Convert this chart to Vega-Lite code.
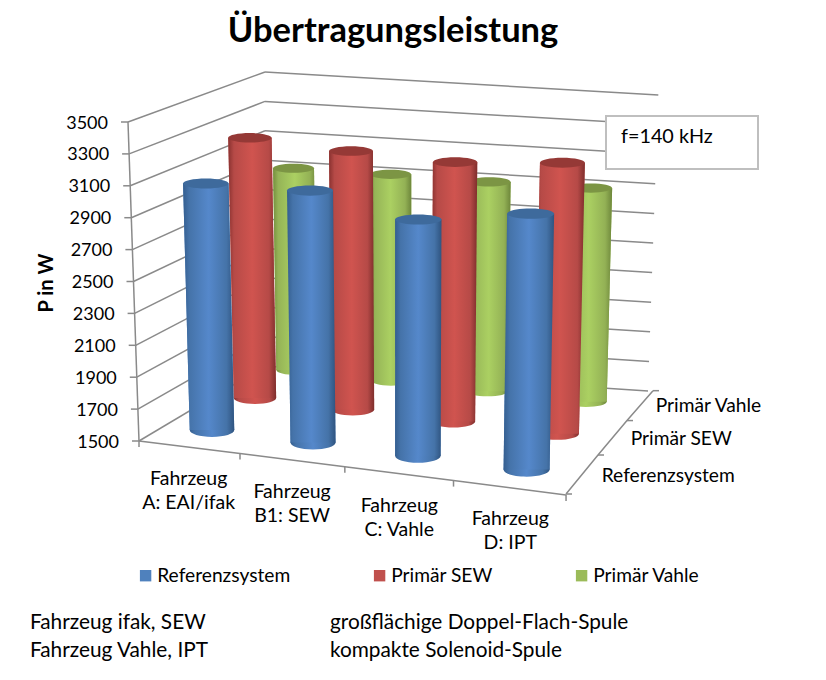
{
"$schema":"https://vega.github.io/schema/vega-lite/v6.json",
"width":826,"height":680,"padding":0,"autosize":{"type":"none"},
"background":"white",
"title":{"text":"Übertragungsleistung","font":"Lato","fontSize":34.5,"fontWeight":"bold","color":"#000","anchor":"middle","dx":-20,"dy":53,"frame":"group"},
"config":{"view":{"stroke":null},"axis":{"disable":true},"text":{"font":"Lato","fontSize":19,"color":"#000"}},
"layer":[
{"data":{"values":[{"v":1500},{"v":1700},{"v":1900},{"v":2100},{"v":2300},{"v":2500},{"v":2700},{"v":2900},{"v":3100},{"v":3300},{"v":3500}]},
 "transform":[
  {"calculate":"(datum.v-1500)/2000","as":"t"},
  {"calculate":"139-11*datum.t","as":"fx"},
  {"calculate":"441-319*datum.t","as":"fy"},
  {"calculate":"datum.fx-7","as":"tx"},
  {"calculate":"datum.fx-20","as":"lx"},
  {"calculate":"datum.fy+1.5","as":"ly"},
  {"calculate":"265","as":"bx"},
  {"calculate":"366-294*datum.t","as":"by"},
  {"calculate":"648+10.3*datum.t","as":"rx"},
  {"calculate":"391-296*datum.t","as":"ry"}],
 "layer":[
  {"mark":{"type":"rule","color":"#8a8a8a","strokeWidth":1.5},"encoding":{"x":{"field":"fx","type":"quantitative","scale":{"domain":[0,826],"nice":false,"zero":false}},"y":{"field":"fy","type":"quantitative","scale":{"domain":[680,0],"nice":false,"zero":false}},"x2":{"field":"bx"},"y2":{"field":"by"}}},
  {"mark":{"type":"rule","color":"#8a8a8a","strokeWidth":1.5},"encoding":{"x":{"field":"bx","type":"quantitative"},"y":{"field":"by","type":"quantitative"},"x2":{"field":"rx"},"y2":{"field":"ry"}}},
  {"mark":{"type":"rule","color":"#8a8a8a","strokeWidth":1.5},"encoding":{"x":{"field":"tx","type":"quantitative"},"y":{"field":"fy","type":"quantitative"},"x2":{"field":"fx"}}},
  {"mark":{"type":"rule","color":"#8a8a8a","strokeWidth":1.5},"encoding":{"x":{"field":"fx","type":"quantitative"},"y":{"field":"fy","type":"quantitative"},"x2":{"datum":128},"y2":{"datum":122}},"transform":[{"filter":"datum.v==1500"}]},
  {"mark":{"type":"text","align":"right","baseline":"middle","fontSize":18},"encoding":{"x":{"field":"lx","type":"quantitative"},"y":{"field":"ly","type":"quantitative"},"text":{"field":"v","type":"nominal"}}}
 ]},
{"data":{"values":[{"k":0,"fahrzeug":"Fahrzeug\nA: EAI/ifak"},{"k":1,"fahrzeug":"Fahrzeug\nB1: SEW"},{"k":2,"fahrzeug":"Fahrzeug\nC: Vahle"},{"k":3,"fahrzeug":"Fahrzeug\nD: IPT"},{"k":4,"fahrzeug":""}]},
 "transform":[
  {"calculate":"139+99.08*datum.k+1.92*datum.k*datum.k","as":"ex"},
  {"calculate":"441+12.3*datum.k+0.3*datum.k*datum.k","as":"ey"},
  {"calculate":"datum.ey+6","as":"ey2"},
  {"calculate":"188.7+101.5*datum.k+1.9*datum.k*datum.k","as":"lx"},
  {"calculate":"479+13.3*datum.k","as":"ly"}],
 "layer":[
  {"mark":{"type":"line","color":"#8a8a8a","strokeWidth":1.5},"encoding":{"x":{"field":"ex","type":"quantitative"},"y":{"field":"ey","type":"quantitative"}}},
  {"mark":{"type":"rule","color":"#8a8a8a","strokeWidth":1.5},"encoding":{"x":{"field":"ex","type":"quantitative"},"y":{"field":"ey","type":"quantitative"},"y2":{"field":"ey2"}}},
  {"mark":{"type":"text","align":"center","baseline":"middle","lineBreak":"\n","lineHeight":24,"fontSize":19.5},"encoding":{"x":{"field":"lx","type":"quantitative"},"y":{"field":"ly","type":"quantitative"},"text":{"field":"fahrzeug","type":"nominal"}},"transform":[{"filter":"datum.k<4"}]}
 ]},
{"data":{"values":[{"m":0,"system":"Referenzsystem"},{"m":1,"system":"Primär SEW"},{"m":2,"system":"Primär Vahle"},{"m":3,"system":""}]},
 "transform":[
  {"calculate":"566+33.5*datum.m-1.5*datum.m*datum.m","as":"ex"},
  {"calculate":"494-41.28*datum.m+2.28*datum.m*datum.m","as":"ey"},
  {"calculate":"datum.ex+6","as":"ex2"},
  {"calculate":"601.7+31*datum.m-2*datum.m*datum.m","as":"lx"},
  {"calculate":"475.7-37.95*datum.m+1.55*datum.m*datum.m","as":"ly"}],
 "layer":[
  {"mark":{"type":"line","color":"#8a8a8a","strokeWidth":1.5},"encoding":{"x":{"field":"ex","type":"quantitative"},"y":{"field":"ey","type":"quantitative"},"order":{"field":"m"}}},
  {"mark":{"type":"rule","color":"#8a8a8a","strokeWidth":1.5},"encoding":{"x":{"field":"ex","type":"quantitative"},"y":{"field":"ey","type":"quantitative"},"x2":{"field":"ex2"}}},
  {"mark":{"type":"text","align":"left","baseline":"middle","fontSize":19.2},"encoding":{"x":{"field":"lx","type":"quantitative"},"y":{"field":"ly","type":"quantitative"},"text":{"field":"system","type":"nominal"}},"transform":[{"filter":"datum.m<3"}]}
 ]},
{"data":{"values":[
  {"fahrzeug":"A","system":"Referenzsystem","P":3070},{"fahrzeug":"B1","system":"Referenzsystem","P":3105},{"fahrzeug":"C","system":"Referenzsystem","P":3005},{"fahrzeug":"D","system":"Referenzsystem","P":3130},
  {"fahrzeug":"A","system":"Primär SEW","P":3195},{"fahrzeug":"B1","system":"Primär SEW","P":3185},{"fahrzeug":"C","system":"Primär SEW","P":3190},{"fahrzeug":"D","system":"Primär SEW","P":3265},
  {"fahrzeug":"A","system":"Primär Vahle","P":2845},{"fahrzeug":"B1","system":"Primär Vahle","P":2875},{"fahrzeug":"C","system":"Primär Vahle","P":2895},{"fahrzeug":"D","system":"Primär Vahle","P":2925}]},
 "transform":[
  {"calculate":"1500","as":"Basis"},
  {"fold":["P","Basis"],"as":["key","value"]},
  {"calculate":"indexof(['A','B1','C','D'],datum.fahrzeug)","as":"i"},
  {"calculate":"indexof(['Referenzsystem','Primär SEW','Primär Vahle'],datum.system)","as":"j"},
  {"calculate":"212+43.8*datum.j-0.8*datum.j*datum.j+(99.1-2.8*datum.j)*datum.i+(1.92-0.46*datum.j)*datum.i*datum.i","as":"bx"},
  {"calculate":"430-34*datum.j+2*datum.j*datum.j+(12.3-0.85*datum.j)*datum.i+0.3*(1-datum.j/2)*datum.i*datum.i","as":"by"},
  {"calculate":"(datum.value-1500)*(31.4-0.7*datum.j)/200","as":"h"},
  {"calculate":"datum.bx+(datum.bx-405)*datum.h*0.00013","as":"px"},
  {"calculate":"datum.by-datum.h","as":"py"},
  {"calculate":"44.5-2.2*datum.j+0.5*datum.i+datum.h*0.004","as":"w"},
  {"calculate":"datum.px-datum.w/2","as":"xl"},
  {"calculate":"datum.px+datum.w/2","as":"xr"},
  {"calculate":"datum.w*datum.w","as":"sz"}],
 "layer":[
  {"mark":{"type":"area","orient":"horizontal"},"encoding":{"x":{"field":"xl","type":"quantitative"},"x2":{"field":"xr"},"y":{"field":"py","type":"quantitative"},"detail":{"field":"fahrzeug"},"color":{"field":"system","type":"nominal","scale":{"domain":["Referenzsystem","Primär SEW","Primär Vahle"],"range":["#4f81bd","#c0504d","#9bbb59"]},"legend":{"orient":"none","legendX":136,"legendY":566,"direction":"horizontal","columns":3,"columnPadding":79,"title":null,"symbolType":"square","symbolSize":130,"symbolStrokeWidth":0,"labelFont":"Lato","labelFontSize":19.2,"labelOffset":2,"labelColor":"#000"}}}},

  {"transform":[{"filter":"datum.system=='Primär Vahle' && datum.key=='Basis'"}],"mark":{"type":"point","shape":"M-1,0A1,0.25 0 1,1 1,0A1,0.25 0 1,1 -1,0Z","filled":true,"opacity":1,"strokeWidth":0,"fill":{"gradient":"linear","x1":0,"y1":0,"x2":1,"y2":0,"stops":[{"offset":0,"color":"#758f3f"},{"offset":0.12,"color":"#95b457"},{"offset":0.5,"color":"#abd062"},{"offset":0.85,"color":"#93b155"},{"offset":1,"color":"#6e873b"}]}},"encoding":{"x":{"field":"px","type":"quantitative"},"y":{"field":"py","type":"quantitative"},"size":{"field":"sz","type":"quantitative","scale":null}}},
  {"transform":[{"filter":"datum.system=='Primär Vahle'"}],"mark":{"type":"area","orient":"horizontal","fill":{"gradient":"linear","x1":0,"y1":0,"x2":1,"y2":0,"stops":[{"offset":0,"color":"#758f3f"},{"offset":0.12,"color":"#95b457"},{"offset":0.5,"color":"#abd062"},{"offset":0.85,"color":"#93b155"},{"offset":1,"color":"#6e873b"}]}},"encoding":{"x":{"field":"xl","type":"quantitative"},"x2":{"field":"xr"},"y":{"field":"py","type":"quantitative"},"detail":{"field":"fahrzeug"}}},
  {"transform":[{"filter":"datum.system=='Primär Vahle' && datum.key=='P'"}],"mark":{"type":"point","shape":"M-1,0A1,0.22 0 1,1 1,0A1,0.22 0 1,1 -1,0Z","filled":true,"opacity":1,"strokeWidth":0,"fill":"#7c9544"},"encoding":{"x":{"field":"px","type":"quantitative"},"y":{"field":"py","type":"quantitative"},"size":{"field":"sz","type":"quantitative","scale":null}}},

  {"transform":[{"filter":"datum.system=='Primär SEW' && datum.key=='Basis'"}],"mark":{"type":"point","shape":"M-1,0A1,0.28 0 1,1 1,0A1,0.28 0 1,1 -1,0Z","filled":true,"opacity":1,"strokeWidth":0,"fill":{"gradient":"linear","x1":0,"y1":0,"x2":1,"y2":0,"stops":[{"offset":0,"color":"#8a3230"},{"offset":0.12,"color":"#b64a47"},{"offset":0.5,"color":"#d0544f"},{"offset":0.85,"color":"#b64a47"},{"offset":1,"color":"#7f2e2c"}]}},"encoding":{"x":{"field":"px","type":"quantitative"},"y":{"field":"py","type":"quantitative"},"size":{"field":"sz","type":"quantitative","scale":null}}},
  {"transform":[{"filter":"datum.system=='Primär SEW'"}],"mark":{"type":"area","orient":"horizontal","fill":{"gradient":"linear","x1":0,"y1":0,"x2":1,"y2":0,"stops":[{"offset":0,"color":"#8a3230"},{"offset":0.12,"color":"#b64a47"},{"offset":0.5,"color":"#d0544f"},{"offset":0.85,"color":"#b64a47"},{"offset":1,"color":"#7f2e2c"}]}},"encoding":{"x":{"field":"xl","type":"quantitative"},"x2":{"field":"xr"},"y":{"field":"py","type":"quantitative"},"detail":{"field":"fahrzeug"}}},
  {"transform":[{"filter":"datum.system=='Primär SEW' && datum.key=='P'"}],"mark":{"type":"point","shape":"M-1,0A1,0.22 0 1,1 1,0A1,0.22 0 1,1 -1,0Z","filled":true,"opacity":1,"strokeWidth":0,"fill":"#953936"},"encoding":{"x":{"field":"px","type":"quantitative"},"y":{"field":"py","type":"quantitative"},"size":{"field":"sz","type":"quantitative","scale":null}}},

  {"transform":[{"filter":"datum.system=='Referenzsystem' && datum.key=='Basis'"}],"mark":{"type":"point","shape":"M-1,0A1,0.31 0 1,1 1,0A1,0.31 0 1,1 -1,0Z","filled":true,"opacity":1,"strokeWidth":0,"fill":{"gradient":"linear","x1":0,"y1":0,"x2":1,"y2":0,"stops":[{"offset":0,"color":"#345e8f"},{"offset":0.12,"color":"#4573a9"},{"offset":0.5,"color":"#5588cb"},{"offset":0.85,"color":"#4573a8"},{"offset":1,"color":"#2f5480"}]}},"encoding":{"x":{"field":"px","type":"quantitative"},"y":{"field":"py","type":"quantitative"},"size":{"field":"sz","type":"quantitative","scale":null}}},
  {"transform":[{"filter":"datum.system=='Referenzsystem'"}],"mark":{"type":"area","orient":"horizontal","fill":{"gradient":"linear","x1":0,"y1":0,"x2":1,"y2":0,"stops":[{"offset":0,"color":"#345e8f"},{"offset":0.12,"color":"#4573a9"},{"offset":0.5,"color":"#5588cb"},{"offset":0.85,"color":"#4573a8"},{"offset":1,"color":"#2f5480"}]}},"encoding":{"x":{"field":"xl","type":"quantitative"},"x2":{"field":"xr"},"y":{"field":"py","type":"quantitative"},"detail":{"field":"fahrzeug"}}},
  {"transform":[{"filter":"datum.system=='Referenzsystem' && datum.key=='P'"}],"mark":{"type":"point","shape":"M-1,0A1,0.22 0 1,1 1,0A1,0.22 0 1,1 -1,0Z","filled":true,"opacity":1,"strokeWidth":0,"fill":"#3e6a9c"},"encoding":{"x":{"field":"px","type":"quantitative"},"y":{"field":"py","type":"quantitative"},"size":{"field":"sz","type":"quantitative","scale":null}}}
 ]},
{"data":{"values":[{"note":"f=140 kHz"}]},
 "layer":[
  {"mark":{"type":"rect","fill":"white","stroke":"#bfbfbf","strokeWidth":2},"encoding":{"x":{"datum":606},"x2":{"datum":758},"y":{"datum":116},"y2":{"datum":169}}},
  {"mark":{"type":"text","align":"left","baseline":"middle","fontSize":19.8},"encoding":{"x":{"datum":621},"y":{"datum":137},"text":{"field":"note","type":"nominal"}}}
 ]},
{"data":{"values":[{"label":"P in W"}]},
 "mark":{"type":"text","angle":270,"align":"center","baseline":"middle","fontSize":20,"fontWeight":"bold"},
 "encoding":{"x":{"datum":47},"y":{"datum":283},"text":{"field":"label","type":"nominal"}}},
{"data":{"values":[{"spalte":0,"zeile":0,"text":"Fahrzeug ifak, SEW"},{"spalte":0,"zeile":1,"text":"Fahrzeug Vahle, IPT"},{"spalte":1,"zeile":0,"text":"großflächige Doppel-Flach-Spule"},{"spalte":1,"zeile":1,"text":"kompakte Solenoid-Spule"}]},
 "transform":[{"calculate":"30+300*datum.spalte","as":"nx"},{"calculate":"623+28*datum.zeile","as":"ny"}],
 "mark":{"type":"text","align":"left","baseline":"middle","fontSize":20.8},
 "encoding":{"x":{"field":"nx","type":"quantitative"},"y":{"field":"ny","type":"quantitative"},"text":{"field":"text","type":"nominal"}}}
]
}
